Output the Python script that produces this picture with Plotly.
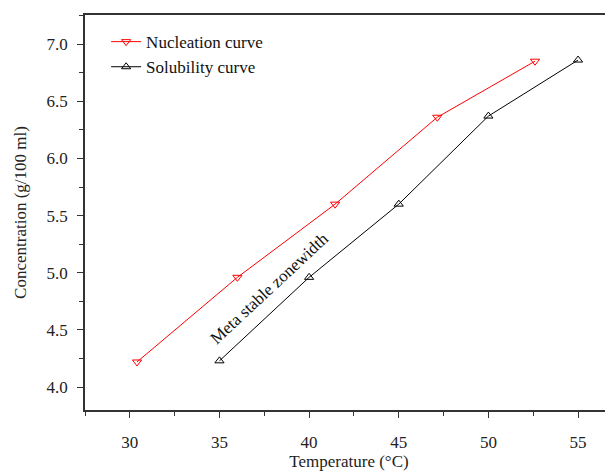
import plotly.graph_objects as go

nuc_temp = [30.4, 36.0, 41.45, 47.15, 52.6]
nuc_conc = [4.22, 4.96, 5.60, 6.36, 6.85]
sol_temp = [35, 40, 45, 50, 55]
sol_conc = [4.23, 4.96, 5.60, 6.37, 6.86]

FONT = "Liberation Serif"
FS = 17

fig = go.Figure()
fig.add_trace(go.Scatter(x=nuc_temp, y=nuc_conc, mode="lines+markers", name="Nucleation curve",
                         line=dict(color="#ff0000", width=1),
                         marker=dict(symbol="triangle-down-open", size=8, color="#ff0000", line=dict(width=1))))
fig.add_trace(go.Scatter(x=sol_temp, y=sol_conc, mode="lines+markers", name="Solubility curve",
                         line=dict(color="#000000", width=1),
                         marker=dict(symbol="triangle-up-open", size=8, color="#000000", line=dict(width=1))))

fig.add_annotation(x=37.77, y=4.865, text="Meta stable zonewidth", showarrow=False, textangle=-43,
                   font=dict(family=FONT, size=FS, color="#111"))

# page body has an 8px margin in the browser, so the figure is 8px smaller and offset
fig.update_layout(
    width=605, height=463,
    margin=dict(l=77, r=0, t=7, b=61),
    plot_bgcolor="white", paper_bgcolor="white",
    font=dict(family=FONT, size=FS, color="#222"),
    showlegend=True,
    legend=dict(x=0.04, y=0.977, xanchor="left", yanchor="top", bgcolor="rgba(0,0,0,0)",
                font=dict(family=FONT, size=FS, color="#111"), tracegroupgap=0, itemwidth=30),
    xaxis=dict(range=[27.5, 56.95], tickvals=[30, 35, 40, 45, 50, 55], ticks="outside", ticklen=6,
               tickwidth=1, tickcolor="#333", showline=True, linecolor="#333", linewidth=1.5,
               mirror=True, showgrid=False, zeroline=False, automargin=False, ticklabelstandoff=10,
               minor=dict(ticks="outside", dtick=2.5, tick0=27.5, ticklen=4, tickcolor="#333", showgrid=False),
               title=dict(text="Temperature (°C)", font=dict(family=FONT, size=FS), standoff=10)),
    yaxis=dict(range=[3.80, 7.254], tickvals=[4.0, 4.5, 5.0, 5.5, 6.0, 6.5, 7.0], tickformat=".1f",
               ticks="outside", ticklen=6, tickwidth=1, tickcolor="#333", showline=True,
               linecolor="#333", linewidth=1.5, showgrid=False, zeroline=False, automargin=False,
               ticklabelstandoff=6,
               minor=dict(ticks="outside", dtick=0.25, tick0=3.75, ticklen=4, tickcolor="#333", showgrid=False),
               title=dict(text="Concentration (g/100 ml)", font=dict(family=FONT, size=FS), standoff=16)),
)

fig.write_html("out.html")
